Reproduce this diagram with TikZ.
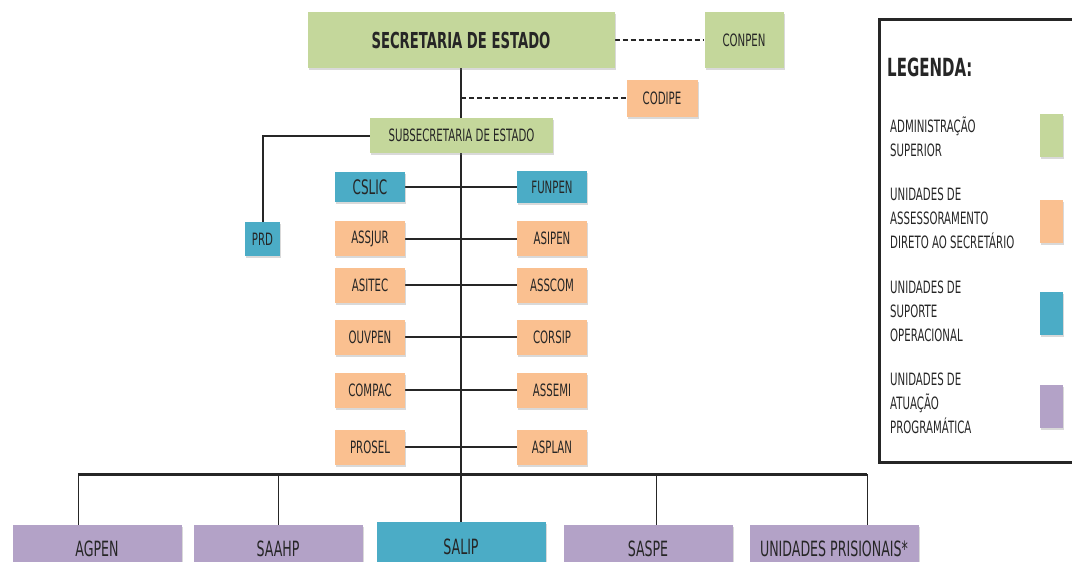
\documentclass[tikz,border=0pt]{standalone}
\usepackage{fontspec}
\setmainfont{DejaVu Sans}[FakeStretch=0.6]
\usetikzlibrary{backgrounds,shadows}

\definecolor{verde}{HTML}{C4D79B}
\definecolor{laranja}{HTML}{FAC090}
\definecolor{azul}{HTML}{4BACC6}
\definecolor{lilas}{HTML}{B3A2C7}
\definecolor{texto}{HTML}{262626}

\tikzset{
  caixa/.style={fill=#1, text=texto, inner sep=0pt, align=center,
    font=\fontsize{17}{20}\selectfont,
    drop shadow={shadow xshift=1pt, shadow yshift=-2pt, opacity=0.3}},
  lateral/.style={caixa=#1, minimum width=70pt, minimum height=35pt},
  diretoria/.style={caixa=#1, minimum width=169pt, minimum height=48pt,
    font=\fontsize{21}{24}\selectfont},
  ligacao/.style={line width=2pt, draw=texto},
  tronco/.style={line width=1.3pt, draw=texto},
  tracejado/.style={line width=2pt, draw=texto, dash pattern=on 5pt off 3pt},
  itemleg/.style={anchor=west, inner sep=0pt, align=left, text=texto,
    font=\fontsize{17}{24}\selectfont}
}

\begin{document}
\begin{tikzpicture}[x=1pt, y=-1pt]
  \useasboundingbox (0,0) rectangle (1072,562);

  % topo
  \node[caixa=verde, minimum width=307pt, minimum height=56pt, font=\bfseries\fontsize{22}{26}\selectfont] (sec) at (461,40) {SECRETARIA DE ESTADO};
  \node[caixa=verde, minimum width=79pt, minimum height=56pt] (conpen) at (744,40) {CONPEN};
  \node[caixa=laranja, minimum width=71pt, minimum height=37pt] (codipe) at (662,98) {CODIPE};
  \node[caixa=verde, minimum width=183pt, minimum height=35pt] (sub) at (461.5,135.5) {SUBSECRETARIA DE ESTADO};
  \node[caixa=azul, minimum width=35pt, minimum height=34pt] (prd) at (262.5,239) {PRD};

  % colunas
  \node[lateral=azul, minimum height=30pt, font=\fontsize{20}{22}\selectfont] (cslic) at (370,187) {CSLIC};
  \node[lateral=laranja] (assjur) at (370,238.5) {ASSJUR};
  \node[lateral=laranja] (asitec) at (370,285) {ASITEC};
  \node[lateral=laranja] (ouvpen) at (370,337) {OUVPEN};
  \node[lateral=laranja] (compac) at (370,390) {COMPAC};
  \node[lateral=laranja] (prosel) at (370,447) {PROSEL};

  \node[lateral=azul, minimum height=32pt, right of=cslic, node distance=182pt] (funpen) {FUNPEN};
  \node[lateral=laranja, right of=assjur, node distance=182pt] (asipen) {ASIPEN};
  \node[lateral=laranja, right of=asitec, node distance=182pt] (asscom) {ASSCOM};
  \node[lateral=laranja, right of=ouvpen, node distance=182pt] (corsip) {CORSIP};
  \node[lateral=laranja, right of=compac, node distance=182pt] (assemi) {ASSEMI};
  \node[lateral=laranja, right of=prosel, node distance=182pt] (asplan) {ASPLAN};

  % base
  \node[diretoria=lilas] (agpen) at (97,549) {AGPEN};
  \node[diretoria=lilas] (saahp) at (278,549) {SAAHP};
  \node[diretoria=azul, minimum height=50pt] (salip) at (461,547) {SALIP};
  \node[diretoria=lilas] (saspe) at (648,549) {SASPE};
  \node[diretoria=lilas] (unid) at (834,549) {UNIDADES PRISIONAIS*};

  \coordinate (dAgpen) at (78,474);
  \coordinate (dSaahp) at (278,474);
  \coordinate (dSaspe) at (656,474);
  \coordinate (dUnid) at (867,474);

  \begin{pgfonlayer}{background}
    \draw[tronco] (sec) -- (salip);
    \draw[tracejado] (sec) -- (conpen);
    \draw[tracejado] (codipe.west -| sec.south) -- (codipe);
    \draw[ligacao] (sub) -| (prd);
    \foreach \esq/\dir in {cslic/funpen, assjur/asipen, asitec/asscom, ouvpen/corsip, compac/assemi, prosel/asplan}
      \draw[ligacao] (\esq) -- (\dir);
    \draw[line width=3pt, draw=texto] (dAgpen) -- (dUnid);
    \foreach \d/\n in {dAgpen/agpen, dSaahp/saahp, dSaspe/saspe, dUnid/unid}
      \draw[tronco, line width=1pt] (\d) -- (\d |- \n.north);
  \end{pgfonlayer}

  % legenda
  \coordinate (legTopo) at (1100,19);
  \coordinate (legBase) at (1100,462);
  \draw[draw=texto, line width=3pt] (legTopo) -| (legBase -| 879,0) -- (legBase);
  \node[anchor=west, inner sep=0pt, text=texto, font=\bfseries\fontsize{25}{28}\selectfont] (titulo) at (887,67) {LEGENDA:};
  \node[itemleg] (legAdm) at (890,137) {ADMINISTRAÇÃO\\SUPERIOR};
  \node[itemleg] (legAss) at (890,218) {UNIDADES DE\\ASSESSORAMENTO\\DIRETO AO SECRETÁRIO};
  \node[itemleg] (legSup) at (890,311) {UNIDADES DE\\SUPORTE\\OPERACIONAL};
  \node[itemleg] (legAtu) at (890,403) {UNIDADES DE\\ATUAÇÃO\\PROGRAMÁTICA};
  \node[caixa=verde, minimum width=23pt, minimum height=43pt] (corAdm) at (1051.5,135) {};
  \node[caixa=laranja, minimum width=23pt, minimum height=43pt] (corAss) at (1051.5,221) {};
  \node[caixa=azul, minimum width=23pt, minimum height=43pt] (corSup) at (1051.5,313.5) {};
  \node[caixa=lilas, minimum width=23pt, minimum height=43pt] (corAtu) at (1051.5,406.5) {};
\end{tikzpicture}
\end{document}
